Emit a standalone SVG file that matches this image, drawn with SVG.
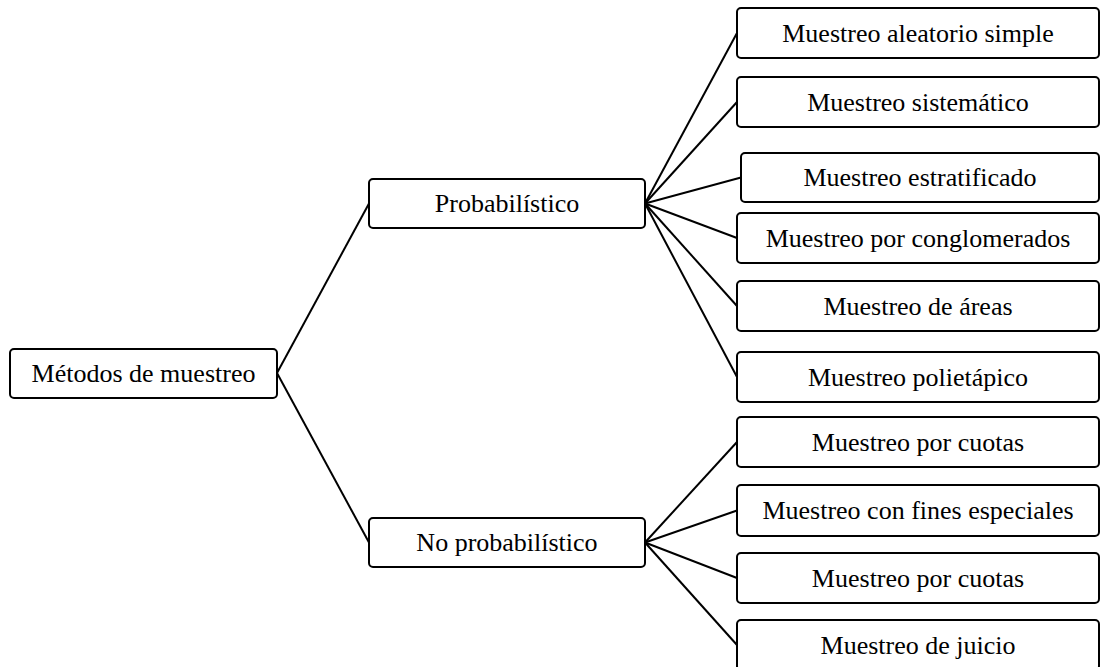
<svg xmlns="http://www.w3.org/2000/svg" width="1102" height="667" viewBox="0 0 1102 667">
  <style>
    .box { fill: #ffffff; stroke: #000000; stroke-width: 2; }
    .lbl { font-family: "Liberation Serif", "Times New Roman", serif; font-size: 26px; fill: #000000; text-anchor: middle; }
    .link { stroke: #000000; stroke-width: 2; fill: none; }
  </style>
  <rect width="1102" height="667" fill="#ffffff"/>

  <!-- connectors -->
  <g id="connectors" class="link">
    <line x1="277" y1="373" x2="369" y2="203.5"/>
    <line x1="277" y1="373" x2="369" y2="542.5"/>
    <line x1="645" y1="203.5" x2="737" y2="33"/>
    <line x1="645" y1="203.5" x2="737" y2="102"/>
    <line x1="645" y1="203.5" x2="741" y2="177.5"/>
    <line x1="645" y1="203.5" x2="737" y2="238"/>
    <line x1="645" y1="203.5" x2="737" y2="306"/>
    <line x1="645" y1="203.5" x2="737" y2="377"/>
    <line x1="645" y1="542.5" x2="737" y2="442"/>
    <line x1="645" y1="542.5" x2="737" y2="510.5"/>
    <line x1="645" y1="542.5" x2="737" y2="578"/>
    <line x1="645" y1="542.5" x2="737" y2="645"/>
  </g>

  <!-- root -->
  <g id="metodos">
    <rect class="box" x="10" y="349" width="267" height="49" rx="4"/>
    <text class="lbl" x="143.5" y="382">Métodos de muestreo</text>
  </g>

  <!-- second level -->
  <g id="probabilistico">
    <rect class="box" x="369" y="179" width="276" height="49" rx="4"/>
    <text class="lbl" x="507" y="212">Probabilístico</text>
  </g>
  <g id="no-probabilistico">
    <rect class="box" x="369" y="518" width="276" height="49" rx="4"/>
    <text class="lbl" x="507" y="551">No probabilístico</text>
  </g>

  <!-- probabilistic methods -->
  <g id="aleatorio-simple">
    <rect class="box" x="737" y="8" width="362" height="50" rx="4"/>
    <text class="lbl" x="918" y="42">Muestreo aleatorio simple</text>
  </g>
  <g id="sistematico">
    <rect class="box" x="737" y="77" width="362" height="50" rx="4"/>
    <text class="lbl" x="918" y="111">Muestreo sistemático</text>
  </g>
  <g id="estratificado">
    <rect class="box" x="741" y="153" width="358" height="49" rx="4"/>
    <text class="lbl" x="920" y="186">Muestreo estratificado</text>
  </g>
  <g id="conglomerados">
    <rect class="box" x="737" y="213" width="362" height="50" rx="4"/>
    <text class="lbl" x="918" y="247">Muestreo por conglomerados</text>
  </g>
  <g id="areas">
    <rect class="box" x="737" y="281" width="362" height="50" rx="4"/>
    <text class="lbl" x="918" y="315">Muestreo de áreas</text>
  </g>
  <g id="polietapico">
    <rect class="box" x="737" y="352" width="362" height="50" rx="4"/>
    <text class="lbl" x="918" y="386">Muestreo polietápico</text>
  </g>

  <!-- non-probabilistic methods -->
  <g id="cuotas-1">
    <rect class="box" x="737" y="417" width="362" height="50" rx="4"/>
    <text class="lbl" x="918" y="451">Muestreo por cuotas</text>
  </g>
  <g id="fines-especiales">
    <rect class="box" x="737" y="485" width="362" height="51" rx="4"/>
    <text class="lbl" x="918" y="519">Muestreo con fines especiales</text>
  </g>
  <g id="cuotas-2">
    <rect class="box" x="737" y="553" width="362" height="50" rx="4"/>
    <text class="lbl" x="918" y="587">Muestreo por cuotas</text>
  </g>
  <g id="juicio">
    <rect class="box" x="737" y="620" width="362" height="50" rx="4"/>
    <text class="lbl" x="918" y="654">Muestreo de juicio</text>
  </g>
</svg>
